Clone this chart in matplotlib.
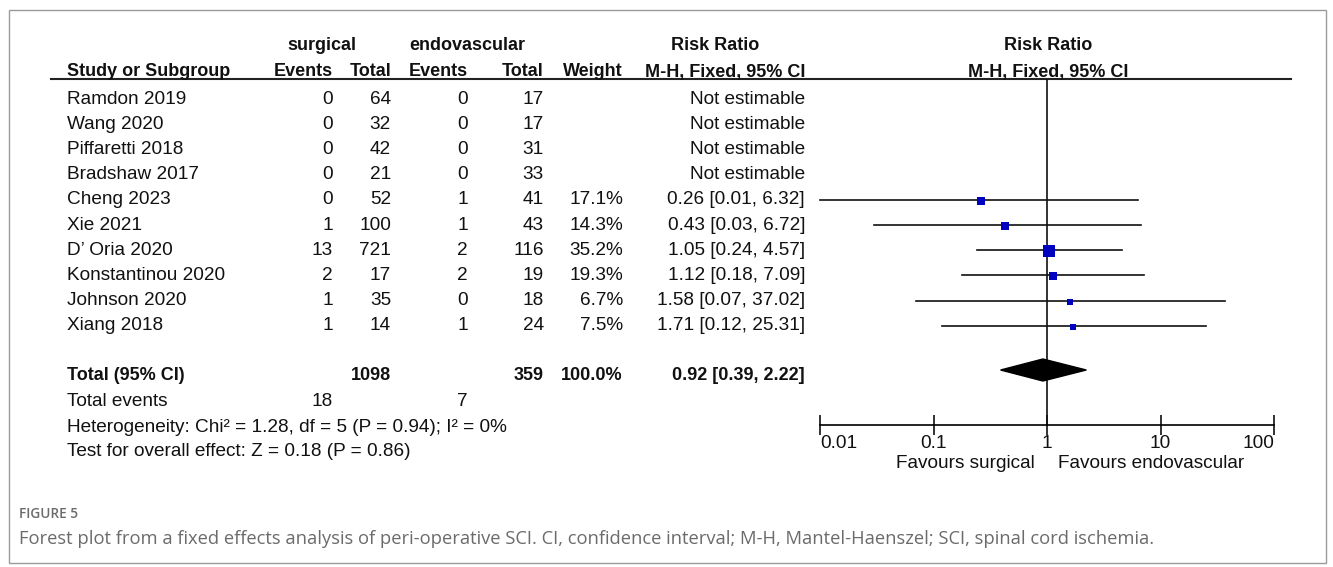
import numpy as np
import matplotlib
matplotlib.use("Agg")
import matplotlib.pyplot as plt
from matplotlib.patches import Polygon, Rectangle

# ---- data ----
studies = ["Ramdon 2019", "Wang 2020", "Piffaretti 2018", "Bradshaw 2017",
           "Cheng 2023", "Xie 2021", "D\u2019 Oria 2020", "Konstantinou 2020",
           "Johnson 2020", "Xiang 2018"]
surg_events = [0, 0, 0, 0, 0, 1, 13, 2, 1, 1]
surg_total = [64, 32, 42, 21, 52, 100, 721, 17, 35, 14]
endo_events = [0, 0, 0, 0, 1, 1, 2, 2, 0, 1]
endo_total = [17, 17, 31, 33, 41, 43, 116, 19, 18, 24]
weights = [None, None, None, None, 17.1, 14.3, 35.2, 19.3, 6.7, 7.5]
rr = [None, None, None, None, 0.26, 0.43, 1.05, 1.12, 1.58, 1.71]
rr_lo = [None, None, None, None, 0.01, 0.03, 0.24, 0.18, 0.07, 0.12]
rr_hi = [None, None, None, None, 6.32, 6.72, 4.57, 7.09, 37.02, 25.31]

total_surg, total_endo = 1098, 359
total_w = 100.0
total_rr, total_lo, total_hi = 0.92, 0.39, 2.22
events_surg, events_endo = 18, 7
heterogeneity = "Heterogeneity: Chi\u00b2 = 1.28, df = 5 (P = 0.94); I\u00b2 = 0%"
overall = "Test for overall effect: Z = 0.18 (P = 0.86)"
ticks = [0.01, 0.1, 1, 10, 100]
tick_labels = ["0.01", "0.1", "1", "10", "100"]

W, H = 1333, 567
FONT = "Liberation Sans"
FS = 13.7      # regular text
FSB = 13.0     # bold headers
BLUE = "#0000c0"
INK = "#111111"

fig = plt.figure(figsize=(W / 100, H / 100), dpi=100)
ax = fig.add_axes([0, 0, 1, 1])
ax.set_xlim(0, W)
ax.set_ylim(H, 0)
ax.axis("off")

# outer frame
ax.add_patch(Rectangle((9, 10), 1317, 553, fill=False, ec="#9a9a9a", lw=1.0))


def txt(x, y, s, ha="left", bold=False, size=None, color=INK, family=FONT, weight=None):
    if size is None:
        size = FSB if bold else FS
    ax.text(x, y, s, ha=ha, va="center", fontsize=size, color=color, family=family,
            fontweight=weight or ("bold" if bold else "normal"))


# column right edges
C_SE, C_ST, C_EE, C_ET, C_W, C_RR = 333, 391, 468, 544, 623, 805

# headers
txt(322, 46, "surgical", ha="center", bold=True)
txt(467, 46, "endovascular", ha="center", bold=True)
txt(715, 46, "Risk Ratio", ha="center", bold=True)
txt(1048, 46, "Risk Ratio", ha="center", bold=True)
txt(67, 72, "Study or Subgroup", bold=True)
txt(C_SE, 72, "Events", ha="right", bold=True)
txt(C_ST, 72, "Total", ha="right", bold=True)
txt(C_EE, 72, "Events", ha="right", bold=True)
txt(C_ET, 72, "Total", ha="right", bold=True)
txt(C_W, 72, "Weight", ha="right", bold=True)
txt(C_RR, 72, "M-H, Fixed, 95% CI", ha="right", bold=True)
txt(1048, 72, "M-H, Fixed, 95% CI", ha="center", bold=True)
ax.plot([51, 1291], [79, 79], color="#222222", lw=1.5)

row_y = 99 + 25.2 * np.arange(len(studies))
for i, name in enumerate(studies):
    y = row_y[i]
    txt(67, y, name)
    txt(C_SE, y, str(surg_events[i]), ha="right")
    txt(C_ST, y, str(surg_total[i]), ha="right")
    txt(C_EE, y, str(endo_events[i]), ha="right")
    txt(C_ET, y, str(endo_total[i]), ha="right")
    if rr[i] is None:
        txt(C_RR, y, "Not estimable", ha="right")
    else:
        txt(C_W, y, f"{weights[i]:.1f}%", ha="right")
        txt(C_RR, y, f"{rr[i]:.2f} [{rr_lo[i]:.2f}, {rr_hi[i]:.2f}]", ha="right")

y_tot = 375
txt(67, y_tot, "Total (95% CI)", bold=True)
txt(C_ST, y_tot, str(total_surg), ha="right", bold=True)
txt(C_ET, y_tot, str(total_endo), ha="right", bold=True)
txt(C_W, y_tot, f"{total_w:.1f}%", ha="right", bold=True)
txt(C_RR, y_tot, f"{total_rr:.2f} [{total_lo:.2f}, {total_hi:.2f}]", ha="right", bold=True)
txt(67, 402, "Total events")
txt(C_SE, 402, str(events_surg), ha="right")
txt(C_EE, 402, str(events_endo), ha="right")
txt(67, 427, heterogeneity)
txt(67, 452, overall)

# caption
txt(19, 514, "FIGURE 5", size=9.8, color="#6b6b6b", family="Open Sans", weight="semibold")
txt(19, 539, "Forest plot from a fixed effects analysis of peri-operative SCI. CI, confidence "
    "interval; M-H, Mantel-Haenszel; SCI, spinal cord ischemia.",
    size=13.2, color="#6b6b6b", family="Open Sans")

# ---- forest panel ----
x0, x1 = 820, 1274
fx = fig.add_axes([x0 / W, 0, (x1 - x0) / W, 1])
fx.set_xscale("log")
fx.set_xlim(ticks[0], ticks[-1])
fx.set_ylim(H, 0)
fx.patch.set_alpha(0)
for s in ("top", "left", "right"):
    fx.spines[s].set_visible(False)
fx.spines["bottom"].set_position(("data", 425))
fx.spines["bottom"].set_linewidth(1.2)
fx.set_yticks([])
fx.set_xticks(ticks)
fx.set_xticklabels(tick_labels)
fx.xaxis.set_minor_locator(matplotlib.ticker.NullLocator())
fx.tick_params(axis="x", direction="inout", length=14, width=1.2, pad=0,
               labelsize=FS, colors=INK)
labels = fx.get_xticklabels()
for lab in labels:
    lab.set_family(FONT)
labels[0].set_horizontalalignment("left")
labels[-1].set_horizontalalignment("right")

fx.plot([1, 1], [80, 425], color=INK, lw=1.2)

for i in range(len(studies)):
    if rr[i] is None:
        continue
    y = row_y[i]
    fx.plot([rr_lo[i], rr_hi[i]], [y, y], color=INK, lw=1.2, clip_on=False)
    side = 2.0 * np.sqrt(weights[i]) / 1.389  # points
    fx.scatter([rr[i]], [y + 1], marker="s", s=side ** 2, color=BLUE, lw=0, zorder=3)

dia_y, dh = 370, 11
fx.add_patch(Polygon([[total_lo, dia_y], [total_rr, dia_y - dh],
                      [total_hi, dia_y], [total_rr, dia_y + dh]],
                     closed=True, color="black", zorder=3))

fx.text(0.78, 464, "Favours surgical", ha="right", va="center", fontsize=FS,
        family=FONT, color=INK)
fx.text(1.25, 464, "Favours endovascular", ha="left", va="center", fontsize=FS,
        family=FONT, color=INK)

fig.savefig("out.png", dpi=100, facecolor="white")
